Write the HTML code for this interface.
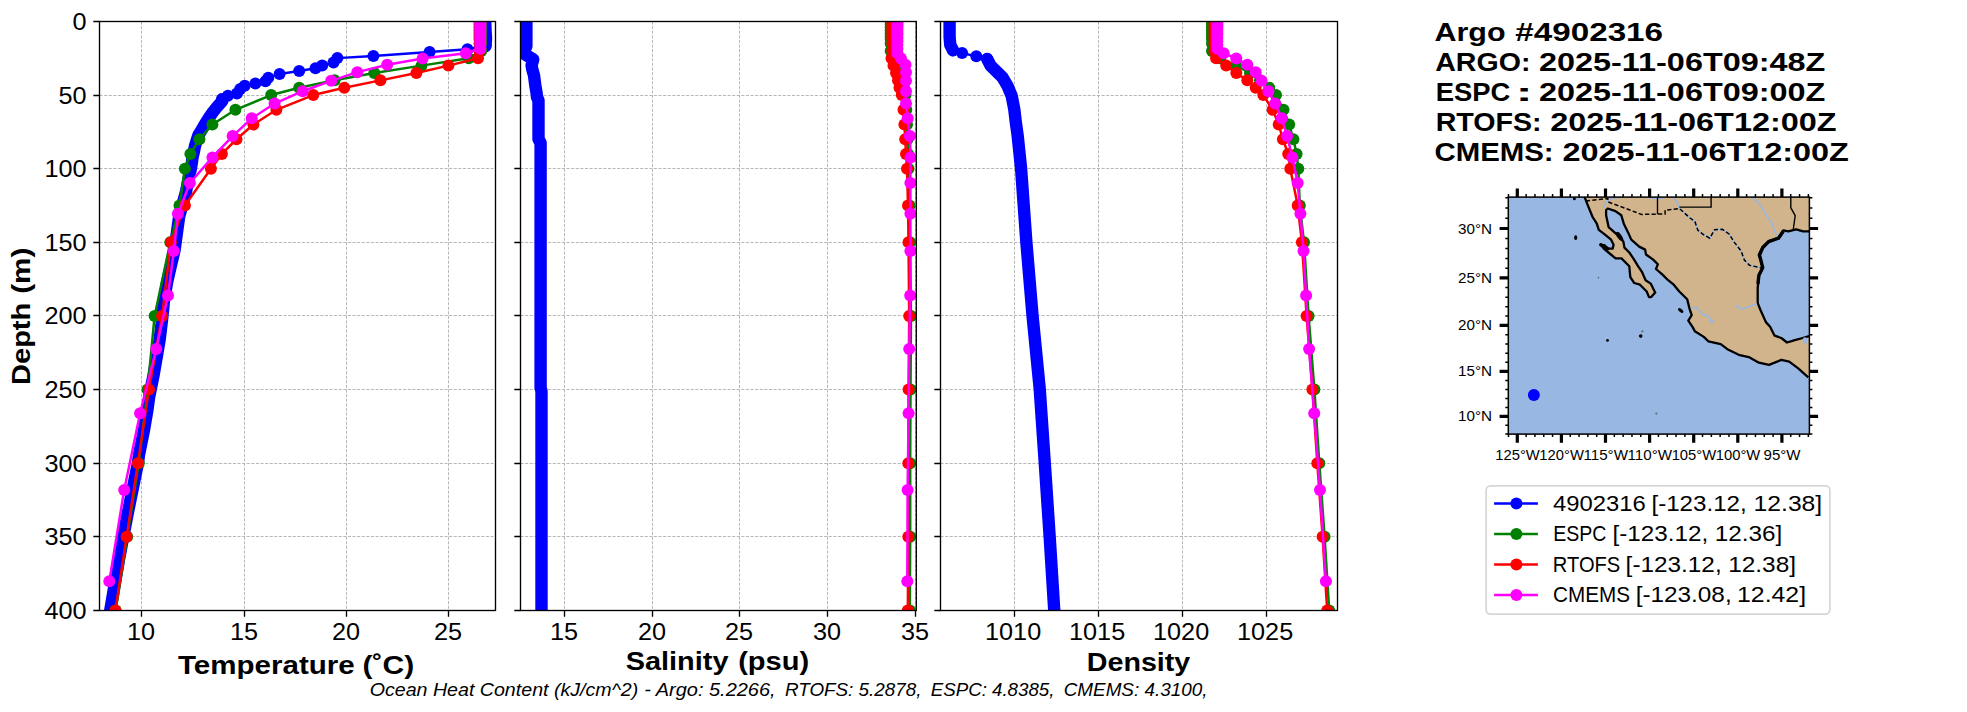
<!DOCTYPE html>
<html><head><meta charset="utf-8"><title>Argo profile</title>
<style>html,body{margin:0;padding:0;background:#fff;overflow:hidden}svg{display:block}text{font-family:"Liberation Sans",sans-serif;fill:#000}</style>
</head><body>
<svg width="1967" height="712" viewBox="0 0 1967 712">
<rect width="1967" height="712" fill="#fff"/>
<defs>
<clipPath id="c0"><rect x="99.5" y="21.45" width="396" height="589"/></clipPath>
<clipPath id="c1"><rect x="520.5" y="21.45" width="395.8" height="589"/></clipPath>
<clipPath id="c2"><rect x="940.5" y="21.45" width="397" height="589"/></clipPath>
</defs>
<path d="M99.5 21.5H495.5M99.5 95.5H495.5M99.5 168.5H495.5M99.5 242.5H495.5M99.5 315.5H495.5M99.5 389.5H495.5M99.5 463.5H495.5M99.5 536.5H495.5M99.5 610.5H495.5M141.5 21.45V610.45M244.5 21.45V610.45M346.5 21.45V610.45M448.5 21.45V610.45" stroke="#b0b0b0" stroke-width="0.9" stroke-dasharray="3.1 1.5" fill="none"/>
<path d="M520.5 21.5H916.3M520.5 95.5H916.3M520.5 168.5H916.3M520.5 242.5H916.3M520.5 315.5H916.3M520.5 389.5H916.3M520.5 463.5H916.3M520.5 536.5H916.3M520.5 610.5H916.3M564.5 21.45V610.45M652.5 21.45V610.45M739.5 21.45V610.45M827.5 21.45V610.45M915.5 21.45V610.45" stroke="#b0b0b0" stroke-width="0.9" stroke-dasharray="3.1 1.5" fill="none"/>
<path d="M940.5 21.5H1337.5M940.5 95.5H1337.5M940.5 168.5H1337.5M940.5 242.5H1337.5M940.5 315.5H1337.5M940.5 389.5H1337.5M940.5 463.5H1337.5M940.5 536.5H1337.5M940.5 610.5H1337.5M1014.5 21.45V610.45M1098.5 21.45V610.45M1182.5 21.45V610.45M1266.5 21.45V610.45" stroke="#b0b0b0" stroke-width="0.9" stroke-dasharray="3.1 1.5" fill="none"/>
<g clip-path="url(#c0)" fill="#0000ff"><path d="M485.2 18 L485.5 30 L486 38 L485.5 46 L485.5 45.5 L467.5 49.3 L429.6 52.1 L373.4 56 L337.4 58.1 L333.5 62.6 L322.2 65.4 L315.5 68.3 L299.2 71.1 L279.6 73.9 L268.3 77.8 L265.5 81.2 L255.4 83.4 L244.7 85.7 L240.2 89 L236.9 93.5 L227.9 95.8 L222.2 99.2 L222.2 99.2 L222.3 101 L217 107 L212.6 112.5 L208.8 118 L205 124 L202.2 129 L198.5 135 L196.5 141 L195 146 L193.8 152 L192.6 157 L191.8 163 L190.8 169 L189.8 172.6 L186 191.6 L179.1 216.8 L176.5 235.8 L174.6 250 L171.6 262.6 L167.2 281.6 L164 300.5 L162.1 319.4 L159.6 339.9 L157.5 352.5 L153.6 375 L149.1 397.4 L147.4 410 L144.1 429.5 L139 454.8 L138 462.8 L128 512 L122.8 539 L118.9 560 L110.3 610 L108 622" stroke="#0000ff" stroke-width="2.5" fill="none"/><path d="M485.2 18 L485.5 30 L486 38 L485.5 46" stroke="#0000ff" stroke-width="12.4" fill="none" stroke-linejoin="round" stroke-linecap="round"/><circle cx="485.5" cy="45.5" r="6.0"/><circle cx="467.5" cy="49.3" r="6.0"/><circle cx="429.6" cy="52.1" r="6.0"/><circle cx="373.4" cy="56" r="6.0"/><circle cx="337.4" cy="58.1" r="6.0"/><circle cx="333.5" cy="62.6" r="6.0"/><circle cx="322.2" cy="65.4" r="6.0"/><circle cx="315.5" cy="68.3" r="6.0"/><circle cx="299.2" cy="71.1" r="6.0"/><circle cx="279.6" cy="73.9" r="6.0"/><circle cx="268.3" cy="77.8" r="6.0"/><circle cx="265.5" cy="81.2" r="6.0"/><circle cx="255.4" cy="83.4" r="6.0"/><circle cx="244.7" cy="85.7" r="6.0"/><circle cx="240.2" cy="89" r="6.0"/><circle cx="236.9" cy="93.5" r="6.0"/><circle cx="227.9" cy="95.8" r="6.0"/><circle cx="222.2" cy="99.2" r="6.0"/><path d="M222.2 99.2 L222.3 101 L217 107 L212.6 112.5 L208.8 118 L205 124 L202.2 129 L198.5 135 L196.5 141 L195 146 L193.8 152 L192.6 157 L191.8 163 L190.8 169 L189.8 172.6 L186 191.6 L179.1 216.8 L176.5 235.8 L174.6 250 L171.6 262.6 L167.2 281.6 L164 300.5 L162.1 319.4 L159.6 339.9 L157.5 352.5 L153.6 375 L149.1 397.4 L147.4 410 L144.1 429.5 L139 454.8 L138 462.8 L128 512 L122.8 539 L118.9 560 L110.3 610 L108 622" stroke="#0000ff" stroke-width="12.4" fill="none" stroke-linejoin="round" stroke-linecap="round"/></g>
<g clip-path="url(#c0)"><path d="M481.3 21.45 L481.3 24.39 L481.3 27.34 L481.3 30.29 L481.3 33.23 L481.3 36.17 L481.3 39.12 L481.3 43.54 L481.3 50.9 L468.7 58.26 L421.5 65.62 L374.3 72.99 L334.6 80.35 L299.2 87.71 L271.2 95.08 L235.4 109.8 L212.4 124.53 L199.4 139.25 L190.4 153.97 L184.9 168.7 L179.5 205.51 L170.3 242.32 L154.6 315.95 L147.6 389.57 L138.8 463.2 L127.2 536.83 L115.6 610.45" stroke="#008000" stroke-width="2.5" fill="none" stroke-linejoin="round"/><g fill="#008000"><circle cx="481.3" cy="21.45" r="6.0"/><circle cx="481.3" cy="24.39" r="6.0"/><circle cx="481.3" cy="27.34" r="6.0"/><circle cx="481.3" cy="30.29" r="6.0"/><circle cx="481.3" cy="33.23" r="6.0"/><circle cx="481.3" cy="36.17" r="6.0"/><circle cx="481.3" cy="39.12" r="6.0"/><circle cx="481.3" cy="43.54" r="6.0"/><circle cx="481.3" cy="50.9" r="6.0"/><circle cx="468.7" cy="58.26" r="6.0"/><circle cx="421.5" cy="65.62" r="6.0"/><circle cx="374.3" cy="72.99" r="6.0"/><circle cx="334.6" cy="80.35" r="6.0"/><circle cx="299.2" cy="87.71" r="6.0"/><circle cx="271.2" cy="95.08" r="6.0"/><circle cx="235.4" cy="109.8" r="6.0"/><circle cx="212.4" cy="124.53" r="6.0"/><circle cx="199.4" cy="139.25" r="6.0"/><circle cx="190.4" cy="153.97" r="6.0"/><circle cx="184.9" cy="168.7" r="6.0"/><circle cx="179.5" cy="205.51" r="6.0"/><circle cx="170.3" cy="242.32" r="6.0"/><circle cx="154.6" cy="315.95" r="6.0"/><circle cx="147.6" cy="389.57" r="6.0"/><circle cx="138.8" cy="463.2" r="6.0"/><circle cx="127.2" cy="536.83" r="6.0"/><circle cx="115.6" cy="610.45" r="6.0"/></g></g>
<g clip-path="url(#c0)"><path d="M479.5 21.45 L479.5 24.39 L479.5 27.34 L479.5 30.29 L479.5 33.23 L479.5 36.17 L479.5 39.12 L479.5 43.54 L479.5 50.9 L478 58.26 L448.4 65.62 L416.4 72.99 L380.4 80.35 L344.3 87.71 L313.3 95.08 L276.4 109.8 L253.4 124.53 L236.5 139.25 L221.9 153.97 L210.9 168.7 L184.9 205.51 L170.9 242.32 L162.1 315.95 L148.9 389.57 L137.9 463.2 L126.6 536.83 L115.4 610.45" stroke="#ff0000" stroke-width="2.5" fill="none" stroke-linejoin="round"/><g fill="#ff0000"><circle cx="479.5" cy="21.45" r="6.0"/><circle cx="479.5" cy="24.39" r="6.0"/><circle cx="479.5" cy="27.34" r="6.0"/><circle cx="479.5" cy="30.29" r="6.0"/><circle cx="479.5" cy="33.23" r="6.0"/><circle cx="479.5" cy="36.17" r="6.0"/><circle cx="479.5" cy="39.12" r="6.0"/><circle cx="479.5" cy="43.54" r="6.0"/><circle cx="479.5" cy="50.9" r="6.0"/><circle cx="478" cy="58.26" r="6.0"/><circle cx="448.4" cy="65.62" r="6.0"/><circle cx="416.4" cy="72.99" r="6.0"/><circle cx="380.4" cy="80.35" r="6.0"/><circle cx="344.3" cy="87.71" r="6.0"/><circle cx="313.3" cy="95.08" r="6.0"/><circle cx="276.4" cy="109.8" r="6.0"/><circle cx="253.4" cy="124.53" r="6.0"/><circle cx="236.5" cy="139.25" r="6.0"/><circle cx="221.9" cy="153.97" r="6.0"/><circle cx="210.9" cy="168.7" r="6.0"/><circle cx="184.9" cy="205.51" r="6.0"/><circle cx="170.9" cy="242.32" r="6.0"/><circle cx="162.1" cy="315.95" r="6.0"/><circle cx="148.9" cy="389.57" r="6.0"/><circle cx="137.9" cy="463.2" r="6.0"/><circle cx="126.6" cy="536.83" r="6.0"/><circle cx="115.4" cy="610.45" r="6.0"/></g></g>
<g clip-path="url(#c0)"><path d="M480.4 22.17 L480.4 23.72 L480.4 25.35 L480.4 27.07 L480.4 28.93 L480.4 30.93 L480.4 33.13 L480.4 35.54 L480.4 38.24 L480.4 41.28 L480.4 44.73 L480.4 48.69 L465.8 53.26 L422.6 58.57 L387.2 64.8 L357.3 72.15 L331.2 80.85 L302.6 91.2 L274.6 103.56 L251.7 118.36 L232.6 136.08 L212.4 157.41 L189.9 183.03 L177.9 213.86 L173.8 250.94 L168 295.53 L156.2 349.05 L140.1 413.19 L124.2 489.9 L109.3 581.31" stroke="#ff00ff" stroke-width="2.5" fill="none" stroke-linejoin="round"/><g fill="#ff00ff"><circle cx="480.4" cy="22.17" r="6.0"/><circle cx="480.4" cy="23.72" r="6.0"/><circle cx="480.4" cy="25.35" r="6.0"/><circle cx="480.4" cy="27.07" r="6.0"/><circle cx="480.4" cy="28.93" r="6.0"/><circle cx="480.4" cy="30.93" r="6.0"/><circle cx="480.4" cy="33.13" r="6.0"/><circle cx="480.4" cy="35.54" r="6.0"/><circle cx="480.4" cy="38.24" r="6.0"/><circle cx="480.4" cy="41.28" r="6.0"/><circle cx="480.4" cy="44.73" r="6.0"/><circle cx="480.4" cy="48.69" r="6.0"/><circle cx="465.8" cy="53.26" r="6.0"/><circle cx="422.6" cy="58.57" r="6.0"/><circle cx="387.2" cy="64.8" r="6.0"/><circle cx="357.3" cy="72.15" r="6.0"/><circle cx="331.2" cy="80.85" r="6.0"/><circle cx="302.6" cy="91.2" r="6.0"/><circle cx="274.6" cy="103.56" r="6.0"/><circle cx="251.7" cy="118.36" r="6.0"/><circle cx="232.6" cy="136.08" r="6.0"/><circle cx="212.4" cy="157.41" r="6.0"/><circle cx="189.9" cy="183.03" r="6.0"/><circle cx="177.9" cy="213.86" r="6.0"/><circle cx="173.8" cy="250.94" r="6.0"/><circle cx="168" cy="295.53" r="6.0"/><circle cx="156.2" cy="349.05" r="6.0"/><circle cx="140.1" cy="413.19" r="6.0"/><circle cx="124.2" cy="489.9" r="6.0"/><circle cx="109.3" cy="581.31" r="6.0"/></g></g>
<g clip-path="url(#c1)" fill="#0000ff"><path d="M526.4 15 L526.4 46 L524.3 51 L526 55 L533.2 59.4 L531.6 65.3 L532.2 69 L534 75.4 L535.3 85.5 L536.6 93 L537 97 L538.5 100.5 L538.5 139 L540.6 143 L540.6 388 L541.5 391 L541.5 620" stroke="#0000ff" stroke-width="2.5" fill="none"/><path d="M526.4 15 L526.4 46 L524.3 51 L526 55 L533.2 59.4 L531.6 65.3 L532.2 69 L534 75.4 L535.3 85.5 L536.6 93 L537 97 L538.5 100.5 L538.5 139 L540.6 143 L540.6 388 L541.5 391 L541.5 620" stroke="#0000ff" stroke-width="12.4" fill="none" stroke-linejoin="round" stroke-linecap="round"/></g>
<g clip-path="url(#c1)"><path d="M890.7 21.45 L890.7 24.39 L890.7 27.34 L890.7 30.29 L890.7 33.23 L890.7 36.17 L890.7 39.12 L890.7 43.54 L890.7 50.9 L892.5 58.26 L896 65.62 L899 72.99 L902 80.35 L904 87.71 L905.5 95.08 L906.3 109.8 L907 124.53 L907.5 139.25 L908 153.97 L908.5 168.7 L909.5 205.51 L910 242.32 L911 315.95 L910.5 389.57 L910.2 463.2 L910.2 536.83 L909.8 610.45" stroke="#008000" stroke-width="2.5" fill="none" stroke-linejoin="round"/><g fill="#008000"><circle cx="890.7" cy="21.45" r="6.0"/><circle cx="890.7" cy="24.39" r="6.0"/><circle cx="890.7" cy="27.34" r="6.0"/><circle cx="890.7" cy="30.29" r="6.0"/><circle cx="890.7" cy="33.23" r="6.0"/><circle cx="890.7" cy="36.17" r="6.0"/><circle cx="890.7" cy="39.12" r="6.0"/><circle cx="890.7" cy="43.54" r="6.0"/><circle cx="890.7" cy="50.9" r="6.0"/><circle cx="892.5" cy="58.26" r="6.0"/><circle cx="896" cy="65.62" r="6.0"/><circle cx="899" cy="72.99" r="6.0"/><circle cx="902" cy="80.35" r="6.0"/><circle cx="904" cy="87.71" r="6.0"/><circle cx="905.5" cy="95.08" r="6.0"/><circle cx="906.3" cy="109.8" r="6.0"/><circle cx="907" cy="124.53" r="6.0"/><circle cx="907.5" cy="139.25" r="6.0"/><circle cx="908" cy="153.97" r="6.0"/><circle cx="908.5" cy="168.7" r="6.0"/><circle cx="909.5" cy="205.51" r="6.0"/><circle cx="910" cy="242.32" r="6.0"/><circle cx="911" cy="315.95" r="6.0"/><circle cx="910.5" cy="389.57" r="6.0"/><circle cx="910.2" cy="463.2" r="6.0"/><circle cx="910.2" cy="536.83" r="6.0"/><circle cx="909.8" cy="610.45" r="6.0"/></g></g>
<g clip-path="url(#c1)"><path d="M892.4 21.45 L892.4 24.39 L892.4 27.34 L892.4 30.29 L892.4 33.23 L892.4 36.17 L892.4 39.12 L892.4 43.54 L892.4 50.9 L891.5 58.26 L893.5 65.62 L896 72.99 L898 80.35 L899.5 87.71 L901.8 95.08 L903.5 109.8 L904.4 124.53 L905.2 139.25 L906 153.97 L907 168.7 L908 205.51 L908.5 242.32 L909.2 315.95 L908.6 389.57 L908.3 463.2 L908.3 536.83 L907.8 610.45" stroke="#ff0000" stroke-width="2.5" fill="none" stroke-linejoin="round"/><g fill="#ff0000"><circle cx="892.4" cy="21.45" r="6.0"/><circle cx="892.4" cy="24.39" r="6.0"/><circle cx="892.4" cy="27.34" r="6.0"/><circle cx="892.4" cy="30.29" r="6.0"/><circle cx="892.4" cy="33.23" r="6.0"/><circle cx="892.4" cy="36.17" r="6.0"/><circle cx="892.4" cy="39.12" r="6.0"/><circle cx="892.4" cy="43.54" r="6.0"/><circle cx="892.4" cy="50.9" r="6.0"/><circle cx="891.5" cy="58.26" r="6.0"/><circle cx="893.5" cy="65.62" r="6.0"/><circle cx="896" cy="72.99" r="6.0"/><circle cx="898" cy="80.35" r="6.0"/><circle cx="899.5" cy="87.71" r="6.0"/><circle cx="901.8" cy="95.08" r="6.0"/><circle cx="903.5" cy="109.8" r="6.0"/><circle cx="904.4" cy="124.53" r="6.0"/><circle cx="905.2" cy="139.25" r="6.0"/><circle cx="906" cy="153.97" r="6.0"/><circle cx="907" cy="168.7" r="6.0"/><circle cx="908" cy="205.51" r="6.0"/><circle cx="908.5" cy="242.32" r="6.0"/><circle cx="909.2" cy="315.95" r="6.0"/><circle cx="908.6" cy="389.57" r="6.0"/><circle cx="908.3" cy="463.2" r="6.0"/><circle cx="908.3" cy="536.83" r="6.0"/><circle cx="907.8" cy="610.45" r="6.0"/></g></g>
<g clip-path="url(#c1)"><path d="M897.4 22.17 L897.4 23.72 L897.4 25.35 L897.4 27.07 L897.4 28.93 L897.4 30.93 L897.4 33.13 L897.4 35.54 L897.4 38.24 L897.4 41.28 L897.4 44.73 L897.4 48.69 L897.4 53.26 L901 58.57 L905.5 64.8 L906 72.15 L906 80.85 L906 91.2 L906 103.56 L907.7 118.36 L909.9 136.08 L910.6 157.41 L910.4 183.03 L910.4 213.86 L910.4 250.94 L910.2 295.53 L909.2 349.05 L908.6 413.19 L907.6 489.9 L907.3 581.31" stroke="#ff00ff" stroke-width="2.5" fill="none" stroke-linejoin="round"/><g fill="#ff00ff"><circle cx="897.4" cy="22.17" r="6.0"/><circle cx="897.4" cy="23.72" r="6.0"/><circle cx="897.4" cy="25.35" r="6.0"/><circle cx="897.4" cy="27.07" r="6.0"/><circle cx="897.4" cy="28.93" r="6.0"/><circle cx="897.4" cy="30.93" r="6.0"/><circle cx="897.4" cy="33.13" r="6.0"/><circle cx="897.4" cy="35.54" r="6.0"/><circle cx="897.4" cy="38.24" r="6.0"/><circle cx="897.4" cy="41.28" r="6.0"/><circle cx="897.4" cy="44.73" r="6.0"/><circle cx="897.4" cy="48.69" r="6.0"/><circle cx="897.4" cy="53.26" r="6.0"/><circle cx="901" cy="58.57" r="6.0"/><circle cx="905.5" cy="64.8" r="6.0"/><circle cx="906" cy="72.15" r="6.0"/><circle cx="906" cy="80.85" r="6.0"/><circle cx="906" cy="91.2" r="6.0"/><circle cx="906" cy="103.56" r="6.0"/><circle cx="907.7" cy="118.36" r="6.0"/><circle cx="909.9" cy="136.08" r="6.0"/><circle cx="910.6" cy="157.41" r="6.0"/><circle cx="910.4" cy="183.03" r="6.0"/><circle cx="910.4" cy="213.86" r="6.0"/><circle cx="910.4" cy="250.94" r="6.0"/><circle cx="910.2" cy="295.53" r="6.0"/><circle cx="909.2" cy="349.05" r="6.0"/><circle cx="908.6" cy="413.19" r="6.0"/><circle cx="907.6" cy="489.9" r="6.0"/><circle cx="907.3" cy="581.31" r="6.0"/></g></g>
<g clip-path="url(#c2)" fill="#0000ff"><path d="M949.6 15 L949.6 37 L950.3 45 L953 50.3 L953 50.3 L962.1 53.1 L976.3 56.3 L987.2 59 L987.2 59 L990.6 65.6 L997.4 72.3 L1002.5 77.4 L1007.5 85.8 L1011.7 95.9 L1014.3 109.4 L1015.9 122.9 L1017.6 135 L1021.1 168.7 L1026.4 242.6 L1032.5 315.2 L1039.7 388.6 L1044.8 463.3 L1049.7 537.2 L1054.1 608 L1055 620" stroke="#0000ff" stroke-width="2.5" fill="none"/><path d="M949.6 15 L949.6 37 L950.3 45 L953 50.3" stroke="#0000ff" stroke-width="12.4" fill="none" stroke-linejoin="round" stroke-linecap="round"/><circle cx="953" cy="50.3" r="6.0"/><circle cx="962.1" cy="53.1" r="6.0"/><circle cx="976.3" cy="56.3" r="6.0"/><circle cx="987.2" cy="59" r="6.0"/><path d="M987.2 59 L990.6 65.6 L997.4 72.3 L1002.5 77.4 L1007.5 85.8 L1011.7 95.9 L1014.3 109.4 L1015.9 122.9 L1017.6 135 L1021.1 168.7 L1026.4 242.6 L1032.5 315.2 L1039.7 388.6 L1044.8 463.3 L1049.7 537.2 L1054.1 608 L1055 620" stroke="#0000ff" stroke-width="12.4" fill="none" stroke-linejoin="round" stroke-linecap="round"/></g>
<g clip-path="url(#c2)"><path d="M1212 21.45 L1212 24.39 L1212 27.34 L1212 30.29 L1212 33.23 L1212 36.17 L1212 39.12 L1212 43.54 L1212 50.9 L1220 58.26 L1236 65.62 L1250 72.99 L1260 80.35 L1269.2 87.71 L1276 95.08 L1283.5 109.8 L1289.2 124.53 L1293.4 139.25 L1296.6 153.97 L1298.3 168.7 L1299.8 205.51 L1304 242.32 L1308.6 315.95 L1314.4 389.57 L1319.3 463.2 L1324.6 536.83 L1329.2 610.45" stroke="#008000" stroke-width="2.5" fill="none" stroke-linejoin="round"/><g fill="#008000"><circle cx="1212" cy="21.45" r="6.0"/><circle cx="1212" cy="24.39" r="6.0"/><circle cx="1212" cy="27.34" r="6.0"/><circle cx="1212" cy="30.29" r="6.0"/><circle cx="1212" cy="33.23" r="6.0"/><circle cx="1212" cy="36.17" r="6.0"/><circle cx="1212" cy="39.12" r="6.0"/><circle cx="1212" cy="43.54" r="6.0"/><circle cx="1212" cy="50.9" r="6.0"/><circle cx="1220" cy="58.26" r="6.0"/><circle cx="1236" cy="65.62" r="6.0"/><circle cx="1250" cy="72.99" r="6.0"/><circle cx="1260" cy="80.35" r="6.0"/><circle cx="1269.2" cy="87.71" r="6.0"/><circle cx="1276" cy="95.08" r="6.0"/><circle cx="1283.5" cy="109.8" r="6.0"/><circle cx="1289.2" cy="124.53" r="6.0"/><circle cx="1293.4" cy="139.25" r="6.0"/><circle cx="1296.6" cy="153.97" r="6.0"/><circle cx="1298.3" cy="168.7" r="6.0"/><circle cx="1299.8" cy="205.51" r="6.0"/><circle cx="1304" cy="242.32" r="6.0"/><circle cx="1308.6" cy="315.95" r="6.0"/><circle cx="1314.4" cy="389.57" r="6.0"/><circle cx="1319.3" cy="463.2" r="6.0"/><circle cx="1324.6" cy="536.83" r="6.0"/><circle cx="1329.2" cy="610.45" r="6.0"/></g></g>
<g clip-path="url(#c2)"><path d="M1214.5 21.45 L1214.5 24.39 L1214.5 27.34 L1214.5 30.29 L1214.5 33.23 L1214.5 36.17 L1214.5 39.12 L1214.5 43.54 L1214.5 50.9 L1216.1 58.26 L1226.2 65.62 L1236.3 72.99 L1247.3 80.35 L1255.7 87.71 L1263.3 95.08 L1272.6 109.8 L1278.7 124.53 L1282.9 139.25 L1288.2 153.97 L1290.3 168.7 L1297.7 205.51 L1301.9 242.32 L1306.6 315.95 L1312.4 389.57 L1317.3 463.2 L1322.6 536.83 L1327.2 610.45" stroke="#ff0000" stroke-width="2.5" fill="none" stroke-linejoin="round"/><g fill="#ff0000"><circle cx="1214.5" cy="21.45" r="6.0"/><circle cx="1214.5" cy="24.39" r="6.0"/><circle cx="1214.5" cy="27.34" r="6.0"/><circle cx="1214.5" cy="30.29" r="6.0"/><circle cx="1214.5" cy="33.23" r="6.0"/><circle cx="1214.5" cy="36.17" r="6.0"/><circle cx="1214.5" cy="39.12" r="6.0"/><circle cx="1214.5" cy="43.54" r="6.0"/><circle cx="1214.5" cy="50.9" r="6.0"/><circle cx="1216.1" cy="58.26" r="6.0"/><circle cx="1226.2" cy="65.62" r="6.0"/><circle cx="1236.3" cy="72.99" r="6.0"/><circle cx="1247.3" cy="80.35" r="6.0"/><circle cx="1255.7" cy="87.71" r="6.0"/><circle cx="1263.3" cy="95.08" r="6.0"/><circle cx="1272.6" cy="109.8" r="6.0"/><circle cx="1278.7" cy="124.53" r="6.0"/><circle cx="1282.9" cy="139.25" r="6.0"/><circle cx="1288.2" cy="153.97" r="6.0"/><circle cx="1290.3" cy="168.7" r="6.0"/><circle cx="1297.7" cy="205.51" r="6.0"/><circle cx="1301.9" cy="242.32" r="6.0"/><circle cx="1306.6" cy="315.95" r="6.0"/><circle cx="1312.4" cy="389.57" r="6.0"/><circle cx="1317.3" cy="463.2" r="6.0"/><circle cx="1322.6" cy="536.83" r="6.0"/><circle cx="1327.2" cy="610.45" r="6.0"/></g></g>
<g clip-path="url(#c2)"><path d="M1217.3 22.17 L1217.3 23.72 L1217.3 25.35 L1217.3 27.07 L1217.3 28.93 L1217.3 30.93 L1217.3 33.13 L1217.3 35.54 L1217.3 38.24 L1217.3 41.28 L1217.3 44.73 L1217.3 48.69 L1223.7 53.26 L1236.3 58.57 L1247.3 64.8 L1255.7 72.15 L1261.6 80.85 L1268.4 91.2 L1275.1 103.56 L1281.8 118.36 L1287.1 136.08 L1292.4 157.41 L1297.7 183.03 L1300.4 213.86 L1303.5 250.94 L1306.1 295.53 L1309.1 349.05 L1314.2 413.19 L1320 489.9 L1325.9 581.31" stroke="#ff00ff" stroke-width="2.5" fill="none" stroke-linejoin="round"/><g fill="#ff00ff"><circle cx="1217.3" cy="22.17" r="6.0"/><circle cx="1217.3" cy="23.72" r="6.0"/><circle cx="1217.3" cy="25.35" r="6.0"/><circle cx="1217.3" cy="27.07" r="6.0"/><circle cx="1217.3" cy="28.93" r="6.0"/><circle cx="1217.3" cy="30.93" r="6.0"/><circle cx="1217.3" cy="33.13" r="6.0"/><circle cx="1217.3" cy="35.54" r="6.0"/><circle cx="1217.3" cy="38.24" r="6.0"/><circle cx="1217.3" cy="41.28" r="6.0"/><circle cx="1217.3" cy="44.73" r="6.0"/><circle cx="1217.3" cy="48.69" r="6.0"/><circle cx="1223.7" cy="53.26" r="6.0"/><circle cx="1236.3" cy="58.57" r="6.0"/><circle cx="1247.3" cy="64.8" r="6.0"/><circle cx="1255.7" cy="72.15" r="6.0"/><circle cx="1261.6" cy="80.85" r="6.0"/><circle cx="1268.4" cy="91.2" r="6.0"/><circle cx="1275.1" cy="103.56" r="6.0"/><circle cx="1281.8" cy="118.36" r="6.0"/><circle cx="1287.1" cy="136.08" r="6.0"/><circle cx="1292.4" cy="157.41" r="6.0"/><circle cx="1297.7" cy="183.03" r="6.0"/><circle cx="1300.4" cy="213.86" r="6.0"/><circle cx="1303.5" cy="250.94" r="6.0"/><circle cx="1306.1" cy="295.53" r="6.0"/><circle cx="1309.1" cy="349.05" r="6.0"/><circle cx="1314.2" cy="413.19" r="6.0"/><circle cx="1320" cy="489.9" r="6.0"/><circle cx="1325.9" cy="581.31" r="6.0"/></g></g>
<rect x="99.5" y="21.5" width="396" height="589" fill="none" stroke="#000" stroke-width="1.35" stroke-linejoin="miter"/>
<path d="M93.3 21.5H99.5M93.3 95.5H99.5M93.3 168.5H99.5M93.3 242.5H99.5M93.3 315.5H99.5M93.3 389.5H99.5M93.3 463.5H99.5M93.3 536.5H99.5M93.3 610.5H99.5M141.5 610.45V616.65M244.5 610.45V616.65M346.5 610.45V616.65M448.5 610.45V616.65" stroke="#000" stroke-width="1.35" fill="none"/>
<rect x="520.5" y="21.5" width="395.8" height="589" fill="none" stroke="#000" stroke-width="1.35" stroke-linejoin="miter"/>
<path d="M514.3 21.5H520.5M514.3 95.5H520.5M514.3 168.5H520.5M514.3 242.5H520.5M514.3 315.5H520.5M514.3 389.5H520.5M514.3 463.5H520.5M514.3 536.5H520.5M514.3 610.5H520.5M564.5 610.45V616.65M652.5 610.45V616.65M739.5 610.45V616.65M827.5 610.45V616.65M915.5 610.45V616.65" stroke="#000" stroke-width="1.35" fill="none"/>
<rect x="940.5" y="21.5" width="397" height="589" fill="none" stroke="#000" stroke-width="1.35" stroke-linejoin="miter"/>
<path d="M934.3 21.5H940.5M934.3 95.5H940.5M934.3 168.5H940.5M934.3 242.5H940.5M934.3 315.5H940.5M934.3 389.5H940.5M934.3 463.5H940.5M934.3 536.5H940.5M934.3 610.5H940.5M1014.5 610.45V616.65M1098.5 610.45V616.65M1182.5 610.45V616.65M1266.5 610.45V616.65" stroke="#000" stroke-width="1.35" fill="none"/>
<text x="86.6" y="30.3" font-size="23.2" text-anchor="end" textLength="14.05" lengthAdjust="spacingAndGlyphs">0</text>
<text x="86.6" y="104.3" font-size="23.2" text-anchor="end" textLength="28.1" lengthAdjust="spacingAndGlyphs">50</text>
<text x="86.6" y="177.3" font-size="23.2" text-anchor="end" textLength="42.15" lengthAdjust="spacingAndGlyphs">100</text>
<text x="86.6" y="251.3" font-size="23.2" text-anchor="end" textLength="42.15" lengthAdjust="spacingAndGlyphs">150</text>
<text x="86.6" y="324.3" font-size="23.2" text-anchor="end" textLength="42.15" lengthAdjust="spacingAndGlyphs">200</text>
<text x="86.6" y="398.3" font-size="23.2" text-anchor="end" textLength="42.15" lengthAdjust="spacingAndGlyphs">250</text>
<text x="86.6" y="472.3" font-size="23.2" text-anchor="end" textLength="42.15" lengthAdjust="spacingAndGlyphs">300</text>
<text x="86.6" y="545.3" font-size="23.2" text-anchor="end" textLength="42.15" lengthAdjust="spacingAndGlyphs">350</text>
<text x="86.6" y="619.3" font-size="23.2" text-anchor="end" textLength="42.15" lengthAdjust="spacingAndGlyphs">400</text>
<text x="141.1" y="639.9" font-size="23.2" text-anchor="middle" textLength="28.1" lengthAdjust="spacingAndGlyphs">10</text>
<text x="244.1" y="639.9" font-size="23.2" text-anchor="middle" textLength="28.1" lengthAdjust="spacingAndGlyphs">15</text>
<text x="346.1" y="639.9" font-size="23.2" text-anchor="middle" textLength="28.1" lengthAdjust="spacingAndGlyphs">20</text>
<text x="448.1" y="639.9" font-size="23.2" text-anchor="middle" textLength="28.1" lengthAdjust="spacingAndGlyphs">25</text>
<text x="564.1" y="639.9" font-size="23.2" text-anchor="middle" textLength="28.1" lengthAdjust="spacingAndGlyphs">15</text>
<text x="652.1" y="639.9" font-size="23.2" text-anchor="middle" textLength="28.1" lengthAdjust="spacingAndGlyphs">20</text>
<text x="739.1" y="639.9" font-size="23.2" text-anchor="middle" textLength="28.1" lengthAdjust="spacingAndGlyphs">25</text>
<text x="827.1" y="639.9" font-size="23.2" text-anchor="middle" textLength="28.1" lengthAdjust="spacingAndGlyphs">30</text>
<text x="915.1" y="639.9" font-size="23.2" text-anchor="middle" textLength="28.1" lengthAdjust="spacingAndGlyphs">35</text>
<text x="1013.1" y="639.9" font-size="23.2" text-anchor="middle" textLength="56.2" lengthAdjust="spacingAndGlyphs">1010</text>
<text x="1097.1" y="639.9" font-size="23.2" text-anchor="middle" textLength="56.2" lengthAdjust="spacingAndGlyphs">1015</text>
<text x="1181.1" y="639.9" font-size="23.2" text-anchor="middle" textLength="56.2" lengthAdjust="spacingAndGlyphs">1020</text>
<text x="1265.1" y="639.9" font-size="23.2" text-anchor="middle" textLength="56.2" lengthAdjust="spacingAndGlyphs">1025</text>
<text transform="rotate(-90)" x="-385.00" y="30.2" font-size="25.5" font-weight="bold" textLength="82.30" lengthAdjust="spacingAndGlyphs">Depth</text>
<text transform="rotate(-90)" x="-293.80" y="30.2" font-size="25.5" font-weight="bold" textLength="46.30" lengthAdjust="spacingAndGlyphs">(m)</text>
<text x="178.00" y="674.10" font-size="25.5" textLength="176.72" lengthAdjust="spacingAndGlyphs" font-weight="bold">Temperature</text>
<text x="362.62" y="674.10" font-size="25.5" textLength="51.60" lengthAdjust="spacingAndGlyphs" font-weight="bold">(˚C)</text>
<text x="625.66" y="670.40" font-size="25.5" textLength="102.84" lengthAdjust="spacingAndGlyphs" font-weight="bold">Salinity</text>
<text x="738.16" y="670.40" font-size="25.5" textLength="71.02" lengthAdjust="spacingAndGlyphs" font-weight="bold">(psu)</text>
<text x="1086.78" y="671.00" font-size="25.5" textLength="103.56" lengthAdjust="spacingAndGlyphs" font-weight="bold">Density</text>
<text x="369.72" y="696.30" font-size="18" textLength="268.58" lengthAdjust="spacingAndGlyphs" font-style="italic">Ocean Heat Content (kJ/cm^2)</text>
<text x="644.24" y="696.30" font-size="18" textLength="131.40" lengthAdjust="spacingAndGlyphs" font-style="italic">- Argo: 5.2266,</text>
<text x="785.00" y="696.30" font-size="18" textLength="136.40" lengthAdjust="spacingAndGlyphs" font-style="italic">RTOFS: 5.2878,</text>
<text x="930.74" y="696.30" font-size="18" textLength="123.66" lengthAdjust="spacingAndGlyphs" font-style="italic">ESPC: 4.8385,</text>
<text x="1063.74" y="696.30" font-size="18" textLength="143.66" lengthAdjust="spacingAndGlyphs" font-style="italic">CMEMS: 4.3100,</text>
<text x="1434.48" y="40.80" font-size="25.5" textLength="71.08" lengthAdjust="spacingAndGlyphs" font-weight="bold">Argo</text>
<text x="1515.28" y="40.80" font-size="25.5" textLength="147.80" lengthAdjust="spacingAndGlyphs" font-weight="bold">#4902316</text>
<text x="1435.24" y="70.75" font-size="25.5" textLength="95.18" lengthAdjust="spacingAndGlyphs" font-weight="bold">ARGO:</text>
<text x="1539.00" y="70.75" font-size="25.5" textLength="286.30" lengthAdjust="spacingAndGlyphs" font-weight="bold">2025-11-06T09:48Z</text>
<text x="1435.70" y="100.70" font-size="25.5" textLength="74.60" lengthAdjust="spacingAndGlyphs" font-weight="bold">ESPC</text>
<text x="1515.48" y="100.70" font-size="25.5" textLength="17.34" lengthAdjust="spacingAndGlyphs" font-weight="bold">:</text>
<text x="1539.00" y="100.70" font-size="25.5" textLength="286.30" lengthAdjust="spacingAndGlyphs" font-weight="bold">2025-11-06T09:00Z</text>
<text x="1435.70" y="130.65" font-size="25.5" textLength="105.94" lengthAdjust="spacingAndGlyphs" font-weight="bold">RTOFS:</text>
<text x="1550.22" y="130.65" font-size="25.5" textLength="286.30" lengthAdjust="spacingAndGlyphs" font-weight="bold">2025-11-06T12:00Z</text>
<text x="1434.44" y="160.60" font-size="25.5" textLength="119.22" lengthAdjust="spacingAndGlyphs" font-weight="bold">CMEMS:</text>
<text x="1562.50" y="160.60" font-size="25.5" textLength="286.30" lengthAdjust="spacingAndGlyphs" font-weight="bold">2025-11-06T12:00Z</text>
<clipPath id="cm"><rect x="1508.3" y="197.1" width="301.1" height="237"/></clipPath>
<rect x="1508.3" y="197.1" width="301.1" height="237" fill="#98b7e2"/>
<g clip-path="url(#cm)">
<path d="M1584.6 197.1 L1809.4 197.1 L1809.4 231.3 L1803.1 231.3 L1796.2 229.3 L1788.3 231.3 L1783.4 230.3 L1778.5 238.2 L1768.7 241.1 L1762.8 247 L1758.8 254.9 L1760.8 260.1 L1762.7 267.7 L1758.9 275.3 L1757.7 287.9 L1757.7 303.1 L1760.8 310.7 L1765.9 322.1 L1770.1 326.7 L1774.6 335.7 L1781.3 338 L1787 342.5 L1794.8 340.2 L1802.7 338 L1808.3 336.3 L1809.4 336.2 L1809.4 377.5 L1808.3 377.3 L1798.2 368.3 L1789.2 361.6 L1781.3 359.9 L1769 364.9 L1758.9 362.7 L1748.8 357.1 L1738.7 354.8 L1727.4 349.2 L1720.7 344.2 L1708.3 341.3 L1703.8 336.9 L1694.8 331.2 L1692.8 327.4 L1688.3 320.7 L1691.7 315.1 L1689.4 308.3 L1687.2 299.3 L1679.3 291.5 L1673.7 284.7 L1668.1 280.2 L1662.5 274.6 L1656 269 L1657.8 264.3 L1652.9 259.4 L1646 254.5 L1645.1 249.6 L1639.2 246.6 L1631.3 239.7 L1628.3 232.9 L1623.8 223.7 L1621.3 215.3 L1615.4 211.1 L1607.8 208.5 L1606.1 210 L1606.1 215.3 L1608.6 227.1 L1616.2 233.8 L1619.5 235.8 L1623.4 241.7 L1624.4 247.6 L1629.3 252.5 L1633.3 258.4 L1638.2 266.3 L1642.1 272.2 L1645.6 280.2 L1650.7 283.6 L1653.5 289.2 L1655.2 292.6 L1651.2 297.1 L1649 297.1 L1646.7 291.5 L1640 284.7 L1634.2 283 L1630.3 277.1 L1629.3 266.3 L1621.5 258.4 L1615.6 258.4 L1609.7 253.5 L1603.8 248.6 L1600.8 244.7 L1604.7 246.6 L1607.7 248.6 L1612.6 248.6 L1613.6 244.7 L1611.1 239.7 L1604.7 234.3 L1598.8 229.9 L1596.8 223.7 L1592.6 217 L1588.4 206.8 L1584.6 197.1Z" fill="#d2b48c" stroke="none"/>
<path d="M1809.4 231.3 L1803.1 231.3 L1796.2 229.3 L1788.3 231.3 L1783.4 230.3 L1778.5 238.2 L1768.7 241.1 L1762.8 247 L1758.8 254.9 L1760.8 260.1 L1762.7 267.7 L1758.9 275.3 L1757.7 287.9 L1757.7 303.1 L1760.8 310.7 L1765.9 322.1 L1770.1 326.7 L1774.6 335.7 L1781.3 338 L1787 342.5 L1794.8 340.2 L1802.7 338 L1808.3 336.3 L1809.4 336.2M1808.3 377.3 L1798.2 368.3 L1789.2 361.6 L1781.3 359.9 L1769 364.9 L1758.9 362.7 L1748.8 357.1 L1738.7 354.8 L1727.4 349.2 L1720.7 344.2 L1708.3 341.3 L1703.8 336.9 L1694.8 331.2 L1692.8 327.4 L1688.3 320.7 L1691.7 315.1 L1689.4 308.3 L1687.2 299.3 L1679.3 291.5 L1673.7 284.7 L1668.1 280.2 L1662.5 274.6 L1656 269 L1657.8 264.3 L1652.9 259.4 L1646 254.5 L1645.1 249.6 L1639.2 246.6 L1631.3 239.7 L1628.3 232.9 L1623.8 223.7 L1621.3 215.3 L1615.4 211.1 L1607.8 208.5 L1606.1 210 L1606.1 215.3 L1608.6 227.1 L1616.2 233.8 L1619.5 235.8 L1623.4 241.7 L1624.4 247.6 L1629.3 252.5 L1633.3 258.4 L1638.2 266.3 L1642.1 272.2 L1645.6 280.2 L1650.7 283.6 L1653.5 289.2 L1655.2 292.6 L1651.2 297.1 L1649 297.1 L1646.7 291.5 L1640 284.7 L1634.2 283 L1630.3 277.1 L1629.3 266.3 L1621.5 258.4 L1615.6 258.4 L1609.7 253.5 L1603.8 248.6 L1600.8 244.7 L1604.7 246.6 L1607.7 248.6 L1612.6 248.6 L1613.6 244.7 L1611.1 239.7 L1604.7 234.3 L1598.8 229.9 L1596.8 223.7 L1592.6 217 L1588.4 206.8 L1584.6 197.1" fill="none" stroke="#000" stroke-width="2.3" stroke-linejoin="round"/>
<g fill="none" stroke="#98b7e2" stroke-width="1.6" stroke-linejoin="round"><path d="M1604.4 207.7 L1603.6 205.2 L1607 201 L1612 198.4 L1620.4 197.2"/><path d="M1650 197.6 L1654 198.8 L1657.5 198 L1661 198.8 L1663 197.3"/><path d="M1673.5 197.2 L1678.6 205.2 L1679.4 208.5"/><path d="M1751 196.7 L1758.8 202.8 L1766.7 215.6 L1772.6 224.4 L1774.6 231.3 L1778.5 238.2"/><path d="M1679.4 208.5 L1690 218 L1694.9 221.5 L1697.9 230.3 L1702.8 234.2 L1709.7 238.2 L1714.6 229.8 L1722.4 229.3 L1729.3 234.2 L1734.2 242.1 L1741.1 251 L1744.4 260.1 L1749.4 265.2 L1762.7 268.3"/><path d="M1691 307.6 L1696.3 307.5 L1702.6 314.5 L1707.7 315.8 L1712.8 322.1"/><path d="M1735.5 305 L1740.6 308.8 L1746 308 L1757 303.7"/></g>
<ellipse cx="1805" cy="340.5" rx="2.2" ry="3.2" fill="#98b7e2"/>
<ellipse cx="1711.5" cy="321.5" rx="2.2" ry="1.4" fill="#98b7e2"/>
<path d="M1585.9 201 L1607.8 198.4 L1607.8 201.8 L1641.5 214.4 L1665.1 214 L1665.1 210.2 L1679.4 208.5 L1690 218 L1694.9 221.5 L1697.9 230.3 L1702.8 234.2 L1709.7 238.2 L1714.6 229.8 L1722.4 229.3 L1729.3 234.2 L1734.2 242.1 L1741.1 251 L1744.4 260.1 L1749.4 265.2 L1762.7 268.3" fill="none" stroke="#000" stroke-width="1.5" stroke-dasharray="4.2 2.3"/>
<g fill="none" stroke="#000" stroke-width="1.4"><path d="M1657.5 197.1 L1657.5 214.2"/><path d="M1679.4 207.1 L1711.1 207.1 L1711.1 197.1"/><path d="M1790.8 197.1 L1790.8 207.7 L1795.2 215.6 L1793.2 229.8"/></g>
<g fill="#000">
<ellipse cx="1575.7" cy="237.7" rx="1.6" ry="2.4"/>
<ellipse cx="1574.4" cy="198.8" rx="1.5" ry="1.5"/>
<circle cx="1607.5" cy="340.4" r="1.4"/>
<circle cx="1640.7" cy="336.1" r="1.8"/>
<ellipse cx="1680.7" cy="310.5" rx="3.2" ry="1.5" transform="rotate(40 1680.7 310.5)"/>
<ellipse cx="1619.5" cy="236.5" rx="2.3" ry="5.3" transform="rotate(-35 1619.5 236.5)"/>
<ellipse cx="1604" cy="246" rx="2" ry="2"/>
</g>
<g fill="none" stroke="#555" stroke-width="0.8"><circle cx="1642.4" cy="331.4" r="0.8"/><circle cx="1656.4" cy="413.5" r="0.7"/><circle cx="1598.4" cy="277.7" r="0.5"/></g>
<path d="M1783.4 231 L1778.5 238.2 L1768.7 241.6 L1762.8 247.5 L1759.5 255 L1760.8 260.1 L1762.7 267.7 L1758.9 275.3 L1757.9 284" fill="none" stroke="#000" stroke-width="3.4" stroke-linejoin="round"/>
<path d="M1600.8 244.7 L1604.7 246.6 L1607.7 248.6" fill="none" stroke="#000" stroke-width="3.4" stroke-linecap="round"/>
<circle cx="1533.88" cy="395.03" r="6" fill="#0000ff"/>
</g>
<rect x="1508.3" y="197.1" width="301.1" height="237" fill="none" stroke="#000" stroke-width="1.5"/>
<path d="M1517.3 197.1V188.4M1517.3 434.1V442.8M1561.4 197.1V188.4M1561.4 434.1V442.8M1605.5 197.1V188.4M1605.5 434.1V442.8M1649.6 197.1V188.4M1649.6 434.1V442.8M1693.7 197.1V188.4M1693.7 434.1V442.8M1737.8 197.1V188.4M1737.8 434.1V442.8M1781.9 197.1V188.4M1781.9 434.1V442.8M1508.3 416.3H1499.6M1809.4 416.3H1818.1M1508.3 371.39H1499.6M1809.4 371.39H1818.1M1508.3 325.41H1499.6M1809.4 325.41H1818.1M1508.3 277.94H1499.6M1809.4 277.94H1818.1M1508.3 228.5H1499.6M1809.4 228.5H1818.1" stroke="#000" stroke-width="3.2" fill="none"/>
<path d="M1508.48 197.1V194.1M1508.48 434.1V437.1M1526.12 197.1V194.1M1526.12 434.1V437.1M1534.94 197.1V194.1M1534.94 434.1V437.1M1543.76 197.1V194.1M1543.76 434.1V437.1M1552.58 197.1V194.1M1552.58 434.1V437.1M1570.22 197.1V194.1M1570.22 434.1V437.1M1579.04 197.1V194.1M1579.04 434.1V437.1M1587.86 197.1V194.1M1587.86 434.1V437.1M1596.68 197.1V194.1M1596.68 434.1V437.1M1614.32 197.1V194.1M1614.32 434.1V437.1M1623.14 197.1V194.1M1623.14 434.1V437.1M1631.96 197.1V194.1M1631.96 434.1V437.1M1640.78 197.1V194.1M1640.78 434.1V437.1M1658.42 197.1V194.1M1658.42 434.1V437.1M1667.24 197.1V194.1M1667.24 434.1V437.1M1676.06 197.1V194.1M1676.06 434.1V437.1M1684.88 197.1V194.1M1684.88 434.1V437.1M1702.52 197.1V194.1M1702.52 434.1V437.1M1711.34 197.1V194.1M1711.34 434.1V437.1M1720.16 197.1V194.1M1720.16 434.1V437.1M1728.98 197.1V194.1M1728.98 434.1V437.1M1746.62 197.1V194.1M1746.62 434.1V437.1M1755.44 197.1V194.1M1755.44 434.1V437.1M1764.26 197.1V194.1M1764.26 434.1V437.1M1773.08 197.1V194.1M1773.08 434.1V437.1M1790.72 197.1V194.1M1790.72 434.1V437.1M1799.54 197.1V194.1M1799.54 434.1V437.1M1808.36 197.1V194.1M1808.36 434.1V437.1M1508.3 434.05H1505.3M1809.4 434.05H1812.4M1508.3 425.19H1505.3M1809.4 425.19H1812.4M1508.3 407.38H1505.3M1809.4 407.38H1812.4M1508.3 398.44H1505.3M1809.4 398.44H1812.4M1508.3 389.46H1505.3M1809.4 389.46H1812.4M1508.3 380.44H1505.3M1809.4 380.44H1812.4M1508.3 362.29H1505.3M1809.4 362.29H1812.4M1508.3 353.14H1505.3M1809.4 353.14H1812.4M1508.3 343.95H1505.3M1809.4 343.95H1812.4M1508.3 334.71H1505.3M1809.4 334.71H1812.4M1508.3 316.05H1505.3M1809.4 316.05H1812.4M1508.3 306.63H1505.3M1809.4 306.63H1812.4M1508.3 297.14H1505.3M1809.4 297.14H1812.4M1508.3 287.58H1505.3M1809.4 287.58H1812.4M1508.3 268.23H1505.3M1809.4 268.23H1812.4M1508.3 258.43H1505.3M1809.4 258.43H1812.4M1508.3 248.55H1505.3M1809.4 248.55H1812.4M1508.3 238.57H1505.3M1809.4 238.57H1812.4M1508.3 218.33H1505.3M1809.4 218.33H1812.4M1508.3 208.04H1505.3M1809.4 208.04H1812.4M1508.3 197.65H1505.3M1809.4 197.65H1812.4" stroke="#000" stroke-width="1.5" fill="none"/>
<text x="1492" y="421.3" font-size="14.4" text-anchor="end" textLength="34" lengthAdjust="spacingAndGlyphs">10°N</text>
<text x="1492" y="376.39" font-size="14.4" text-anchor="end" textLength="34" lengthAdjust="spacingAndGlyphs">15°N</text>
<text x="1492" y="330.41" font-size="14.4" text-anchor="end" textLength="34" lengthAdjust="spacingAndGlyphs">20°N</text>
<text x="1492" y="282.94" font-size="14.4" text-anchor="end" textLength="34" lengthAdjust="spacingAndGlyphs">25°N</text>
<text x="1492" y="233.5" font-size="14.4" text-anchor="end" textLength="34" lengthAdjust="spacingAndGlyphs">30°N</text>
<text x="1517.5" y="460" font-size="14.4" text-anchor="middle" textLength="44.5" lengthAdjust="spacingAndGlyphs">125°W</text>
<text x="1561.6" y="460" font-size="14.4" text-anchor="middle" textLength="44.5" lengthAdjust="spacingAndGlyphs">120°W</text>
<text x="1605.7" y="460" font-size="14.4" text-anchor="middle" textLength="44.5" lengthAdjust="spacingAndGlyphs">115°W</text>
<text x="1649.8" y="460" font-size="14.4" text-anchor="middle" textLength="44.5" lengthAdjust="spacingAndGlyphs">110°W</text>
<text x="1693.9" y="460" font-size="14.4" text-anchor="middle" textLength="44.5" lengthAdjust="spacingAndGlyphs">105°W</text>
<text x="1738" y="460" font-size="14.4" text-anchor="middle" textLength="44.5" lengthAdjust="spacingAndGlyphs">100°W</text>
<text x="1782.1" y="460" font-size="14.4" text-anchor="middle" textLength="37" lengthAdjust="spacingAndGlyphs">95°W</text>
<rect x="1486.1" y="485.8" width="343.8" height="128.3" rx="4.5" ry="4.5" fill="#fff" stroke="#d6d6d6" stroke-width="1.7"/>
<path d="M1494.1 503.4H1537.9" stroke="#0000ff" stroke-width="2.5"/><circle cx="1516.4" cy="503.4" r="6.0" fill="#0000ff"/>
<text x="1553.00" y="510.80" font-size="21.5" textLength="92.68" lengthAdjust="spacingAndGlyphs" >4902316</text>
<text x="1651.46" y="510.80" font-size="21.5" textLength="95.26" lengthAdjust="spacingAndGlyphs" >[-123.12,</text>
<text x="1753.58" y="510.80" font-size="21.5" textLength="68.64" lengthAdjust="spacingAndGlyphs" >12.38]</text>
<path d="M1494.1 533.9H1537.9" stroke="#008000" stroke-width="2.5"/><circle cx="1516.4" cy="533.9" r="6.0" fill="#008000"/>
<text x="1553.20" y="541.30" font-size="21.5" textLength="53.22" lengthAdjust="spacingAndGlyphs" >ESPC</text>
<text x="1612.52" y="541.30" font-size="21.5" textLength="95.64" lengthAdjust="spacingAndGlyphs" >[-123.12,</text>
<text x="1714.70" y="541.30" font-size="21.5" textLength="67.46" lengthAdjust="spacingAndGlyphs" >12.36]</text>
<path d="M1494.1 564.4H1537.9" stroke="#ff0000" stroke-width="2.5"/><circle cx="1516.4" cy="564.4" r="6.0" fill="#ff0000"/>
<text x="1552.82" y="571.80" font-size="21.5" textLength="67.48" lengthAdjust="spacingAndGlyphs" >RTOFS</text>
<text x="1625.64" y="571.80" font-size="21.5" textLength="96.02" lengthAdjust="spacingAndGlyphs" >[-123.12,</text>
<text x="1728.20" y="571.80" font-size="21.5" textLength="67.84" lengthAdjust="spacingAndGlyphs" >12.38]</text>
<path d="M1494.1 594.9H1537.9" stroke="#ff00ff" stroke-width="2.5"/><circle cx="1516.4" cy="594.9" r="6.0" fill="#ff00ff"/>
<text x="1553.00" y="602.30" font-size="21.5" textLength="76.92" lengthAdjust="spacingAndGlyphs" >CMEMS</text>
<text x="1635.70" y="602.30" font-size="21.5" textLength="95.96" lengthAdjust="spacingAndGlyphs" >[-123.08,</text>
<text x="1737.02" y="602.30" font-size="21.5" textLength="69.02" lengthAdjust="spacingAndGlyphs" >12.42]</text>
</svg>
</body></html>
